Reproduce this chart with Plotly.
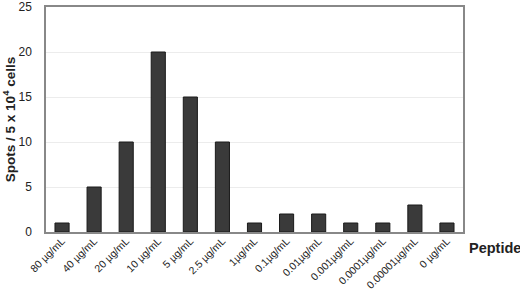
import plotly.graph_objects as go

categories = ["80 µg/mL", "40 µg/mL", "20 µg/mL", "10 µg/mL", "5 µg/mL", "2.5 µg/mL",
              "1µg/mL", "0.1µg/mL", "0.01µg/mL", "0.001µg/mL", "0.0001µg/mL",
              "0.00001µg/mL", "0 µg/mL"]
spots = [1, 5, 10, 20, 15, 10, 1, 2, 2, 1, 1, 3, 1]
y_ticks = [0, 5, 10, 15, 20, 25]

fig = go.Figure(go.Bar(
    x=categories, y=spots, width=0.44,
    marker=dict(color="#3a3a3a", line=dict(color="#1a1a1a", width=1)),
))

fig.update_layout(
    width=520, height=293,
    margin=dict(l=46, r=57, t=7, b=61),
    plot_bgcolor="white", paper_bgcolor="white",
    font=dict(family="Arial, Liberation Sans, sans-serif", color="#222", size=11),
    showlegend=False,
    xaxis=dict(tickangle=-45, showline=True, linecolor="#888", linewidth=1.5, mirror=True,
               ticks="", tickfont=dict(size=10.5), automargin=False, ticklabelstandoff=-3),
    yaxis=dict(range=[0, 25], tickvals=y_ticks, showline=True, linecolor="#888", linewidth=1.5,
               mirror=True, showgrid=True, gridcolor="#ececec", gridwidth=1, ticks="",
               zeroline=False, tickfont=dict(size=12), automargin=False, ticklabelstandoff=10,
               ticklabeloverflow="allow",
               title=dict(text="<b>Spots / 5 x 10<sup>4</sup> cells</b>", font=dict(size=13.5), standoff=0)),
    annotations=[dict(text="<b>Peptide</b>", xref="paper", yref="paper", x=1.01, y=-0.025,
                      xanchor="left", yanchor="top", showarrow=False, font=dict(size=14.5))],
)

fig.write_html("out.html", config={"displayModeBar": False},
               post_script="document.body.style.margin='0';document.body.style.overflow='hidden';")
